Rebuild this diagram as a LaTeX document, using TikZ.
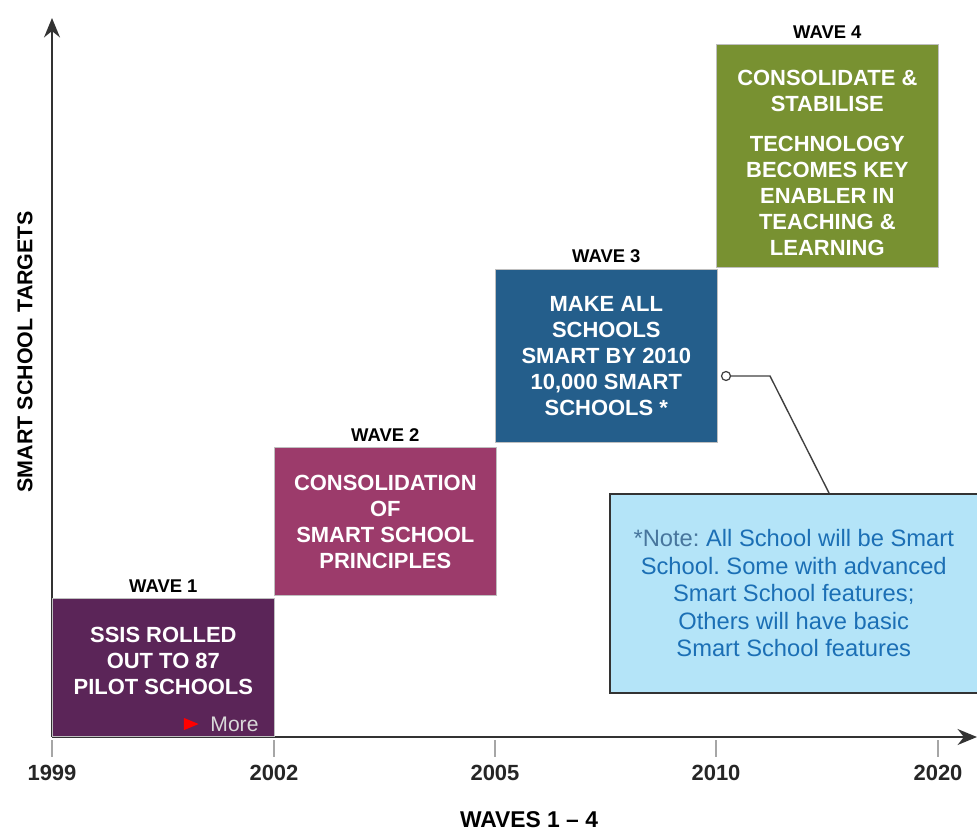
\documentclass[tikz,border=0pt]{standalone}
\usepackage{fontspec}
\setmainfont{Liberation Sans}
\frenchspacing
\usetikzlibrary{arrows.meta, shapes.geometric, positioning}
\definecolor{waveone}{HTML}{5B2558}
\definecolor{wavetwo}{HTML}{9C3B6B}
\definecolor{wavethree}{HTML}{245E8B}
\definecolor{wavefour}{HTML}{789131}
\definecolor{notefill}{HTML}{B4E4F8}
\definecolor{notetext}{HTML}{1B6FB5}
\tikzstyle{wavebox} = [rectangle, anchor=south west, minimum width=4.44cm, draw=black!25, text=white, align=center, font=\bfseries\fontsize{12.5}{14.8}\selectfont]
\tikzstyle{wavelabel} = [font=\bfseries\fontsize{10.5}{12}\selectfont]
\tikzstyle{yearlabel} = [font=\bfseries\fontsize{12.5}{12}\selectfont, text=black!85]
\tikzstyle{axis} = [line width=1.6pt, draw=black!80, -{Stealth[length=11pt, width=9pt]}]
\tikzstyle{tick} = [line width=0.8pt, draw=black!35]

\begin{document}
\begin{tikzpicture}[x=0.02cm, y=-0.02cm]
\useasboundingbox (0,0) rectangle (977,831);

% Axes
\coordinate (origin) at (52,737);
\coordinate (ytop) at (52,18);
\coordinate (xend) at (977,737);
\draw [axis] (origin) -- (ytop);
\draw [axis] (origin) -- (xend);
\node (ytitle) [rotate=90, font=\bfseries\fontsize{12.2}{12}\selectfont] at (25,352) {SMART SCHOOL TARGETS};
\node (xtitle) [font=\bfseries\fontsize{13}{12}\selectfont] at (529,820) {WAVES 1 -- 4};

% Years
\foreach \x/\yr in {52/1999, 274/2002, 495/2005, 716/2010, 938/2020} {
  \coordinate (t\yr) at (\x,740);
  \draw [tick] (t\yr) -- ++(0,17);
  \node (y\yr) [yearlabel] at (\x,773) {\yr};
}

% Waves
\node (wave1) [wavebox, fill=waveone, minimum height=2.76cm] at (52,737) {SSIS ROLLED\\OUT TO 87\\PILOT SCHOOLS\\[-7pt]\mbox{}};
\node (more) [anchor=south east, text=white!85!black, font=\fontsize{12}{12}\selectfont, inner sep=3pt, xshift=-6pt] at (wave1.south east) {More};
\node (marker) [isosceles triangle, fill=red, inner sep=0pt, minimum height=5pt, minimum width=7pt, left=3pt of more] {};
\node (label1) [wavelabel, above=0pt] at (wave1.north) {WAVE 1};

\node (wave2) [wavebox, fill=wavetwo, minimum height=2.96cm] at (274,596) {CONSOLIDATION\\OF\\SMART SCHOOL\\PRINCIPLES};
\node (label2) [wavelabel, above=0pt] at (wave2.north) {WAVE 2};

\node (wave3) [wavebox, fill=wavethree, minimum height=3.46cm] at (495,443) {MAKE ALL\\SCHOOLS\\SMART BY 2010\\10,000 SMART\\SCHOOLS *};
\node (label3) [wavelabel, above=0pt] at (wave3.north) {WAVE 3};

\node (wave4) [wavebox, fill=wavefour, minimum height=4.46cm] at (716,268) {\mbox{}\\[2pt]CONSOLIDATE \&\\STABILISE\\[8pt]TECHNOLOGY\\BECOMES KEY\\ENABLER IN\\TEACHING \&\\LEARNING};
\node (label4) [wavelabel, above=0pt] at (wave4.north) {WAVE 4};

% Note and its pointer
\node (note) [rectangle, anchor=north west, fill=notefill, draw=black!80, line width=0.9pt, minimum width=7.36cm, minimum height=3.98cm, align=center, text=notetext, font=\fontsize{13.5}{15.7}\selectfont] at (609,493) {\textcolor{notetext!55!gray}{*Note:} All School will be Smart\\School. Some with advanced\\Smart School features;\\Others will have basic\\Smart School features};
\coordinate (pin) at (726,376);
\coordinate (bend) at (770,376);
\coordinate (foot) at (829,493);
\draw [black!75, line width=0.8pt] (foot) -- (bend) -- (pin);
\draw [black!75, fill=white, line width=0.7pt] (pin) circle (4.5);

\end{tikzpicture}
\end{document}
